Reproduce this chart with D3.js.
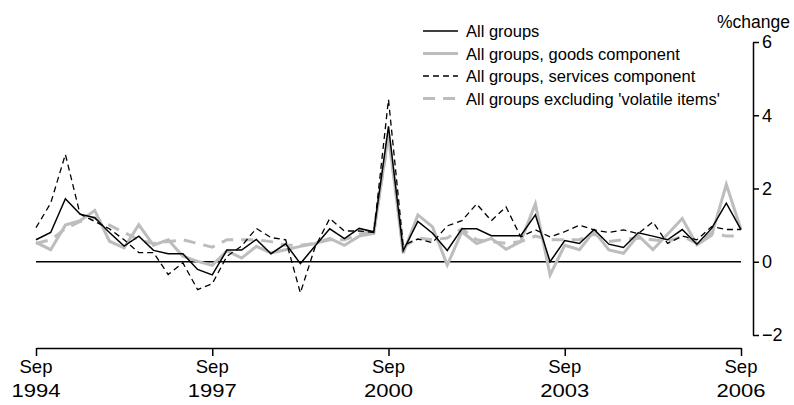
<!DOCTYPE html>
<html>
<head>
<meta charset="utf-8">
<script src="https://cdn.jsdelivr.net/npm/d3@7"></script>
<style>
  html, body { margin: 0; padding: 0; background: #fff; }
  svg { display: block; }
  text { font-family: "Liberation Sans", Arial, sans-serif; fill: #000; }
</style>
</head>
<body>
<svg id="chart" width="794" height="405"></svg>
<script>
// Quarterly % change, Sep 1994 .. Sep 2006 (49 quarters)
const quarters = d3.range(49);
const allGroups = [0.6,0.8,1.72,1.3,1.2,0.8,0.43,0.7,0.31,0.22,0.22,-0.21,-0.36,0.32,0.32,0.61,0.22,0.49,-0.05,0.43,0.9,0.63,0.91,0.82,3.7,0.3,1.1,0.78,0.31,0.9,0.9,0.71,0.71,0.71,1.28,0.0,0.58,0.5,0.88,0.48,0.39,0.79,0.7,0.6,0.88,0.48,0.91,1.6,0.88];
const goods = [0.53,0.33,1.0,1.12,1.4,0.56,0.38,1.01,0.45,0.6,0.15,0.01,-0.1,0.3,0.1,0.42,0.24,0.33,0.42,0.5,0.64,0.45,0.7,0.77,3.5,0.23,1.28,0.95,-0.09,0.82,0.5,0.64,0.34,0.55,1.58,-0.36,0.45,0.33,0.84,0.32,0.23,0.72,0.33,0.75,1.18,0.46,0.72,2.11,0.88];
const services = [0.93,1.6,2.93,1.3,1.1,0.9,0.6,0.25,0.25,-0.35,-0.03,-0.76,-0.6,0.15,0.43,0.91,0.66,0.6,-0.85,0.4,1.18,0.84,0.84,0.8,4.43,0.45,0.62,0.52,0.98,1.12,1.58,1.12,1.5,0.68,0.87,0.68,0.82,1.0,0.87,0.8,0.87,0.77,1.09,0.5,0.7,0.6,0.96,0.88,0.88];
const exclVolatile = [0.5,0.6,0.9,1.1,1.2,1.0,0.8,0.6,0.5,0.55,0.6,0.5,0.4,0.6,0.6,0.6,0.55,0.45,0.45,0.5,0.6,0.6,0.75,0.85,3.4,0.4,0.65,0.6,0.65,0.9,0.6,0.55,0.5,0.55,0.7,0.6,0.6,0.6,0.75,0.55,0.6,0.65,0.6,0.55,0.7,0.5,0.8,0.7,0.7];
const xTickIdx = [0, 12, 24, 36, 48];
const xTickMonth = ["Sep", "Sep", "Sep", "Sep", "Sep"];
const xTickYear = ["1994", "1997", "2000", "2003", "2006"];
const yTicks = [-2, 0, 2, 4, 6];
const seriesNames = ["All groups", "All groups, goods component", "All groups, services component", "All groups excluding 'volatile items'"];

const svg = d3.select("#chart");
const x = d3.scaleLinear().domain([0, 48]).range([36, 741]);
const y = d3.scaleLinear().domain([-2, 6]).range([335, 42]);

// zero line
svg.append("line")
  .attr("x1", x(0)).attr("x2", x(48))
  .attr("y1", y(0)).attr("y2", y(0))
  .attr("stroke", "#000").attr("stroke-width", 1.5);

const styles = [
  { data: goods, color: "#bdbdbd", width: 3, dash: null },
  { data: exclVolatile, color: "#bdbdbd", width: 3, dash: "12,8" },
  { data: services, color: "#000", width: 1.3, dash: "6,4" },
  { data: allGroups, color: "#000", width: 1.5, dash: null }
];
const line = d3.line().x((d, i) => x(quarters[i])).y(d => y(d));
styles.forEach(s => {
  svg.append("path")
    .datum(s.data)
    .attr("d", line)
    .attr("fill", "none")
    .attr("stroke", s.color)
    .attr("stroke-width", s.width)
    .attr("stroke-linejoin", "miter")
    .attr("stroke-dasharray", s.dash);
});

// x axis
const xAxis = svg.append("g").attr("transform", "translate(0,348)")
  .call(d3.axisBottom(x).tickValues(xTickIdx).tickSize(8).tickSizeOuter(0).tickFormat(() => ""));
xAxis.select(".domain").attr("stroke-width", 1.5);
xAxis.selectAll(".tick line").attr("stroke-width", 1.5);
xTickIdx.forEach((q, i) => {
  svg.append("text").attr("x", x(q)).attr("y", 373).attr("text-anchor", "middle")
    .style("font-size", "18.5px").text(xTickMonth[i]);
  svg.append("text").attr("x", x(q)).attr("y", 397).attr("text-anchor", "middle")
    .attr("textLength", 49).attr("lengthAdjust", "spacingAndGlyphs")
    .style("font-size", "18.5px").text(xTickYear[i]);
});

// y axis (right)
const yAxis = svg.append("g").attr("transform", "translate(753,0)")
  .call(d3.axisRight(y).tickValues(yTicks).tickSize(6).tickSizeOuter(0)
    .tickFormat(d => d < 0 ? "\u2212" + Math.abs(d) : d));
yAxis.select(".domain").attr("stroke-width", 1.5);
yAxis.selectAll(".tick line").attr("stroke-width", 1.5);
yAxis.selectAll(".tick text").attr("x", 9).style("font-size", "18px")
  .style("font-family", "'Liberation Sans', Arial, sans-serif");

svg.append("text").attr("x", 790).attr("y", 28).attr("text-anchor", "end")
  .style("font-size", "17.5px").text("%change");

// legend
const legendStyles = [styles[3], styles[0], styles[2], styles[1]];
seriesNames.forEach((name, i) => {
  const ly = 31 + i * 22.5;
  const s = legendStyles[i];
  svg.append("line").attr("x1", 423).attr("x2", 458).attr("y1", ly).attr("y2", ly)
    .attr("stroke", s.color).attr("stroke-width", s.width).attr("stroke-dasharray", s.dash);
  svg.append("text").attr("x", 466).attr("y", ly + 6)
    .style("font-size", "16.5px").text(name);
});
</script>
</body>
</html>
